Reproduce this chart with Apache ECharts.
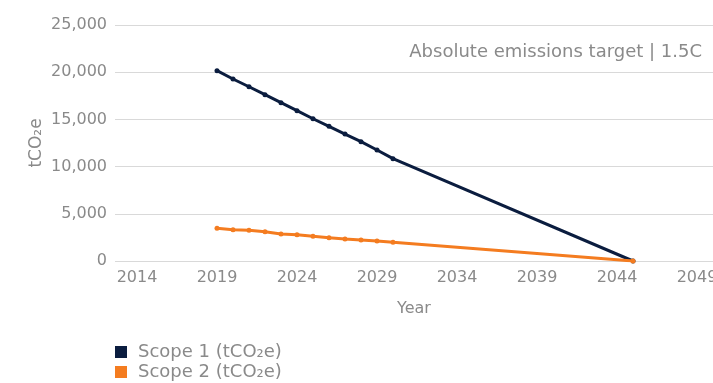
<!DOCTYPE html>
<html>
<head>
<meta charset="utf-8">
<script src="https://cdn.jsdelivr.net/npm/echarts@6/dist/echarts.min.js"></script>
<style>
  html, body { margin: 0; padding: 0; background: #fff; }
  #chart { width: 713px; height: 383px; }
</style>
</head>
<body>
<div id="chart"></div>
<script>
// data
var years = [2019, 2020, 2021, 2022, 2023, 2024, 2025, 2026, 2027, 2028, 2029, 2030, 2045];
var scope1 = [20160, 19280, 18460, 17620, 16770, 15920, 15070, 14270, 13450, 12640, 11760, 10840, 0];
var scope2 = [3460, 3320, 3250, 3100, 2860, 2790, 2620, 2470, 2330, 2230, 2120, 1980, 0];
var yearTicks = [2014, 2019, 2024, 2029, 2034, 2039, 2044, 2049];
var seriesNames = ['Scope 1 (tCO₂e)', 'Scope 2 (tCO₂e)'];

var grey = '#8a8a8a';
var font = 'DejaVu Sans';

function pairs(vals) {
  return years.map(function (y, i) { return [y, vals[i]]; });
}

function legendRow(name, top) {
  return {
    orient: 'vertical',
    left: 110,
    top: top,
    icon: 'rect',
    itemWidth: 12,
    itemHeight: 12,
    textStyle: { color: grey, fontFamily: font, fontSize: 18, lineHeight: 20, padding: [0, 0, 0, 6] },
    data: [name]
  };
}

var chart = echarts.init(document.getElementById('chart'));
var option = {
  animation: false,
  title: {
    text: 'Absolute emissions target | 1.5C',
    right: 6,
    top: 38,
    textStyle: { color: grey, fontFamily: font, fontSize: 18, fontWeight: 'normal' }
  },
  legend: [legendRow(seriesNames[0], 337), legendRow(seriesNames[1], 357)],
  grid: { left: 115, right: 0, top: 25, bottom: 122, outerBoundsMode: 'none' },
  xAxis: {
    type: 'value',
    min: 2012.625,
    max: 2050,
    name: 'Year',
    nameLocation: 'middle',
    nameGap: 40,
    nameTextStyle: { color: grey, fontFamily: font, fontSize: 16 },
    axisLine: { show: false },
    axisTick: { show: false },
    splitLine: { show: false },
    axisLabel: {
      customValues: yearTicks,
      color: grey, fontFamily: font, fontSize: 16, margin: 9,
      formatter: function (v) { return String(v); }
    }
  },
  yAxis: {
    type: 'value',
    min: 0,
    max: 25000,
    interval: 5000,
    name: 'tCO₂e',
    nameLocation: 'middle',
    nameGap: 70,
    nameMoveOverlap: false,
    nameTextStyle: { color: grey, fontFamily: font, fontSize: 17 },
    axisLine: { show: false },
    axisTick: { show: false },
    splitLine: { lineStyle: { color: '#d9d9d9', width: 1 } },
    axisLabel: {
      color: grey, fontFamily: font, fontSize: 16, margin: 8,
      formatter: function (v) { return v.toLocaleString('en-US'); }
    }
  },
  series: [
    {
      name: seriesNames[0],
      type: 'line',
      data: pairs(scope1),
      symbol: 'circle',
      symbolSize: 5,
      showAllSymbol: true,
      color: '#0b1d3f',
      lineStyle: { width: 3, color: '#0b1d3f' },
      itemStyle: { color: '#0b1d3f' },
      z: 2
    },
    {
      name: seriesNames[1],
      type: 'line',
      data: pairs(scope2),
      symbol: 'circle',
      symbolSize: 5,
      showAllSymbol: true,
      color: '#f47c20',
      lineStyle: { width: 3, color: '#f47c20' },
      itemStyle: { color: '#f47c20' },
      z: 3
    }
  ]
};
option && chart.setOption(option);
</script>
</body>
</html>
